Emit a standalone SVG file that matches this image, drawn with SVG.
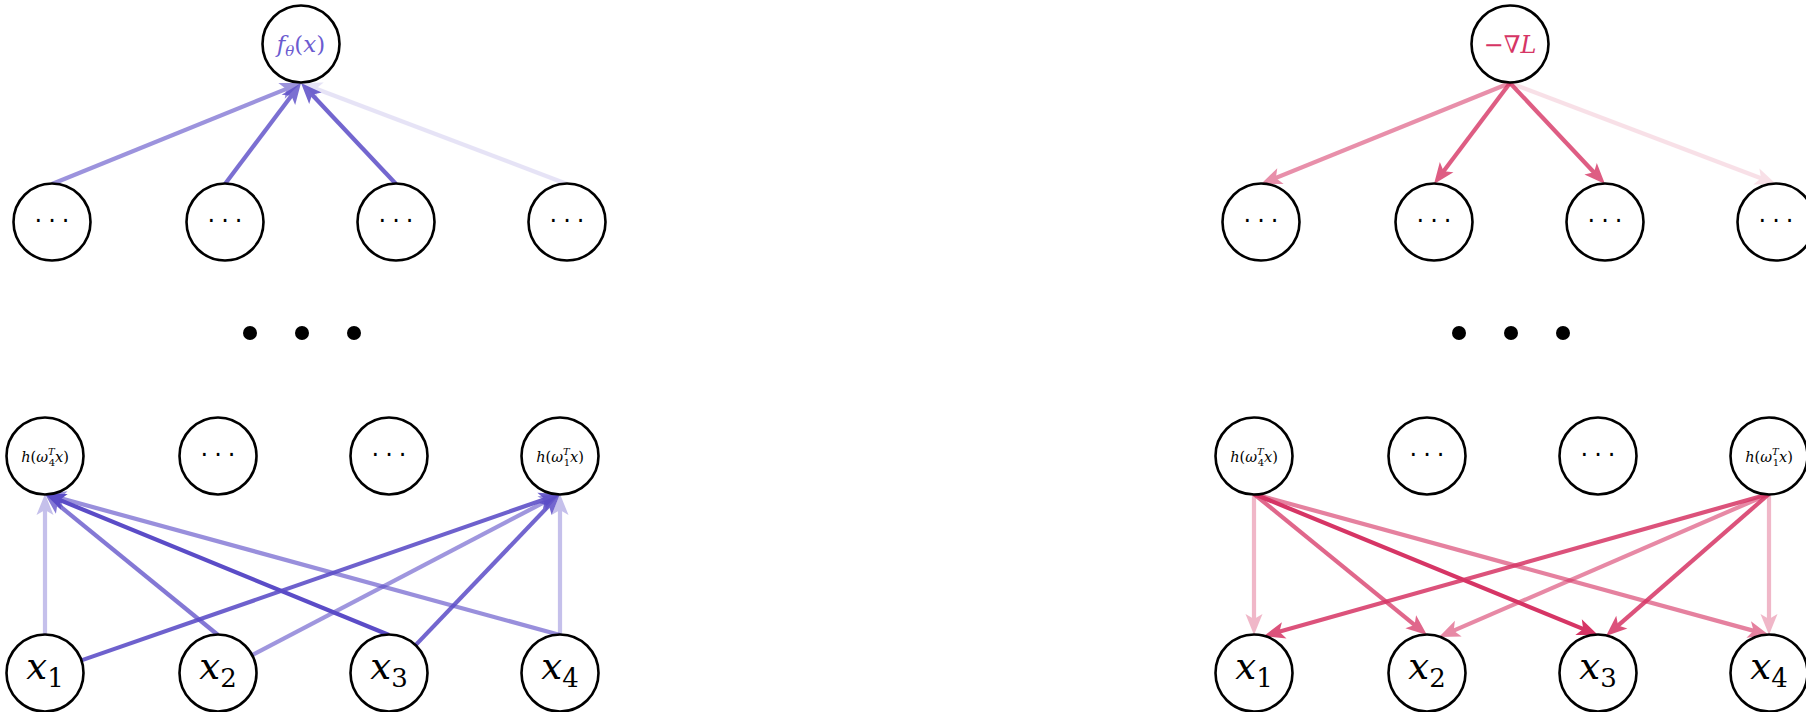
<svg xmlns="http://www.w3.org/2000/svg" width="1806" height="712" viewBox="0 0 1806 712">
<style>
.node{fill:#fff;stroke:#000;stroke-width:2.6}
.cp{stroke:#5b4cc7;stroke-width:4.2;marker-end:url(#ap)}
.ck{stroke:#d63565;stroke-width:4.2;marker-end:url(#ak)}
.up{font-style:normal}
.m{font-family:'DejaVu Serif','Liberation Serif',serif;font-style:italic;text-anchor:middle}
.dots{font-family:'DejaVu Sans',sans-serif;font-size:24px;letter-spacing:6px;text-anchor:middle;fill:#000}
.big{fill:#000}
</style>
<defs>
<marker id="ap" markerUnits="userSpaceOnUse" orient="auto" overflow="visible" markerWidth="1" markerHeight="1" refX="0" refY="0"><path d="M9,0 L-12,-8.5 L-7,0 L-12,8.5 Z" fill="#5b4cc7"/></marker>
<marker id="ak" markerUnits="userSpaceOnUse" orient="auto" overflow="visible" markerWidth="1" markerHeight="1" refX="0" refY="0"><path d="M9,0 L-12,-8.5 L-7,0 L-12,8.5 Z" fill="#d63565"/></marker>
</defs>

<g id="connectors">
<line class="cp" x1="52" y1="184" x2="292.66" y2="86.38" opacity="0.6"/>
<line class="cp" x1="225" y1="184" x2="295.59" y2="90.19" opacity="0.8"/>
<line class="cp" x1="396" y1="184" x2="307.17" y2="89.56" opacity="0.85"/>
<line class="cp" x1="567" y1="184" x2="309.41" y2="86.2" opacity="0.15"/>
<line class="cp" x1="45" y1="635" x2="45" y2="503" opacity="0.35"/>
<line class="cp" x1="218" y1="635" x2="51.98" y2="499.69" opacity="0.75"/>
<line class="cp" x1="389" y1="635" x2="53.33" y2="497.41" opacity="1"/>
<line class="cp" x1="560" y1="635" x2="53.68" y2="496.38" opacity="0.62"/>
<line class="cp" x1="81.37" y1="660.36" x2="551.5" y2="496.95" opacity="0.88"/>
<line class="cp" x1="252.11" y1="655.15" x2="552.03" y2="498.17" opacity="0.58"/>
<line class="cp" x1="415.6" y1="645.16" x2="553.78" y2="500.51" opacity="0.85"/>
<line class="cp" x1="560" y1="635" x2="560" y2="503" opacity="0.35"/>
<line class="ck" x1="1510" y1="83" x2="1269.34" y2="180.62" opacity="0.55"/>
<line class="ck" x1="1510" y1="83" x2="1439.41" y2="176.81" opacity="0.8"/>
<line class="ck" x1="1510" y1="83" x2="1598.83" y2="177.44" opacity="0.8"/>
<line class="ck" x1="1510" y1="83" x2="1767.59" y2="180.8" opacity="0.15"/>
<line class="ck" x1="1254" y1="494" x2="1254" y2="626" opacity="0.35"/>
<line class="ck" x1="1254" y1="494" x2="1420.02" y2="629.31" opacity="0.75"/>
<line class="ck" x1="1254" y1="494" x2="1589.67" y2="631.59" opacity="1"/>
<line class="ck" x1="1254" y1="494" x2="1760.32" y2="632.62" opacity="0.62"/>
<line class="ck" x1="1769" y1="494" x2="1272.66" y2="633.56" opacity="0.85"/>
<line class="ck" x1="1769" y1="494" x2="1447.26" y2="633.42" opacity="0.58"/>
<line class="ck" x1="1769" y1="494" x2="1612.79" y2="630.09" opacity="0.85"/>
<line class="ck" x1="1769" y1="494" x2="1769" y2="626" opacity="0.35"/>
</g>

<g id="L-out"><circle class="node" cx="301" cy="44" r="38.5"/>
<text class="m" x="301" y="52" font-size="23" fill="#6b5bd0">f<tspan font-size="15" dy="4">θ</tspan><tspan class="up" dy="-4">(</tspan>x<tspan class="up">)</tspan></text></g>
<g id="L-n1"><circle class="node" cx="52" cy="222" r="38.5"/><text class="dots" x="55" y="229">···</text></g>
<g id="L-n2"><circle class="node" cx="225" cy="222" r="38.5"/><text class="dots" x="228" y="229">···</text></g>
<g id="L-n3"><circle class="node" cx="396" cy="222" r="38.5"/><text class="dots" x="399" y="229">···</text></g>
<g id="L-n4"><circle class="node" cx="567" cy="222" r="38.5"/><text class="dots" x="570" y="229">···</text></g>
<g id="L-gap"><circle class="big" cx="250" cy="333" r="7"/><circle class="big" cx="302" cy="333" r="7"/><circle class="big" cx="354" cy="333" r="7"/></g>
<g id="L-h1"><circle class="node" cx="45" cy="456" r="38.5"/>
<text class="m" x="45" y="462" font-size="14.5">h<tspan class="up">(</tspan>ω<tspan font-size="10" dy="-7">T</tspan><tspan class="up" font-size="10" dx="-6" dy="11">4</tspan><tspan dy="-4">x</tspan><tspan class="up">)</tspan></text></g>
<g id="L-h2"><circle class="node" cx="218" cy="456" r="38.5"/><text class="dots" x="221" y="463">···</text></g>
<g id="L-h3"><circle class="node" cx="389" cy="456" r="38.5"/><text class="dots" x="392" y="463">···</text></g>
<g id="L-h4"><circle class="node" cx="560" cy="456" r="38.5"/>
<text class="m" x="560" y="462" font-size="14.5">h<tspan class="up">(</tspan>ω<tspan font-size="10" dy="-7">T</tspan><tspan class="up" font-size="10" dx="-6" dy="11">1</tspan><tspan dy="-4">x</tspan><tspan class="up">)</tspan></text></g>
<g id="L-x1"><circle class="node" cx="45" cy="673" r="38.5"/><text class="m" x="45" y="679" font-size="37">x<tspan class="up" font-size="26" dy="8">1</tspan></text></g>
<g id="L-x2"><circle class="node" cx="218" cy="673" r="38.5"/><text class="m" x="218" y="679" font-size="37">x<tspan class="up" font-size="26" dy="8">2</tspan></text></g>
<g id="L-x3"><circle class="node" cx="389" cy="673" r="38.5"/><text class="m" x="389" y="679" font-size="37">x<tspan class="up" font-size="26" dy="8">3</tspan></text></g>
<g id="L-x4"><circle class="node" cx="560" cy="673" r="38.5"/><text class="m" x="560" y="679" font-size="37">x<tspan class="up" font-size="26" dy="8">4</tspan></text></g>

<g id="R-out"><circle class="node" cx="1510" cy="44" r="38.5"/>
<text class="m up" x="1510" y="53" font-size="24" fill="#d63565">−∇<tspan font-style="italic">L</tspan></text></g>
<g id="R-n1"><circle class="node" cx="1261" cy="222" r="38.5"/><text class="dots" x="1264" y="229">···</text></g>
<g id="R-n2"><circle class="node" cx="1434" cy="222" r="38.5"/><text class="dots" x="1437" y="229">···</text></g>
<g id="R-n3"><circle class="node" cx="1605" cy="222" r="38.5"/><text class="dots" x="1608" y="229">···</text></g>
<g id="R-n4"><circle class="node" cx="1776" cy="222" r="38.5"/><text class="dots" x="1779" y="229">···</text></g>
<g id="R-gap"><circle class="big" cx="1459" cy="333" r="7"/><circle class="big" cx="1511" cy="333" r="7"/><circle class="big" cx="1563" cy="333" r="7"/></g>
<g id="R-h1"><circle class="node" cx="1254" cy="456" r="38.5"/>
<text class="m" x="1254" y="462" font-size="14.5">h<tspan class="up">(</tspan>ω<tspan font-size="10" dy="-7">T</tspan><tspan class="up" font-size="10" dx="-6" dy="11">4</tspan><tspan dy="-4">x</tspan><tspan class="up">)</tspan></text></g>
<g id="R-h2"><circle class="node" cx="1427" cy="456" r="38.5"/><text class="dots" x="1430" y="463">···</text></g>
<g id="R-h3"><circle class="node" cx="1598" cy="456" r="38.5"/><text class="dots" x="1601" y="463">···</text></g>
<g id="R-h4"><circle class="node" cx="1769" cy="456" r="38.5"/>
<text class="m" x="1769" y="462" font-size="14.5">h<tspan class="up">(</tspan>ω<tspan font-size="10" dy="-7">T</tspan><tspan class="up" font-size="10" dx="-6" dy="11">1</tspan><tspan dy="-4">x</tspan><tspan class="up">)</tspan></text></g>
<g id="R-x1"><circle class="node" cx="1254" cy="673" r="38.5"/><text class="m" x="1254" y="679" font-size="37">x<tspan class="up" font-size="26" dy="8">1</tspan></text></g>
<g id="R-x2"><circle class="node" cx="1427" cy="673" r="38.5"/><text class="m" x="1427" y="679" font-size="37">x<tspan class="up" font-size="26" dy="8">2</tspan></text></g>
<g id="R-x3"><circle class="node" cx="1598" cy="673" r="38.5"/><text class="m" x="1598" y="679" font-size="37">x<tspan class="up" font-size="26" dy="8">3</tspan></text></g>
<g id="R-x4"><circle class="node" cx="1769" cy="673" r="38.5"/><text class="m" x="1769" y="679" font-size="37">x<tspan class="up" font-size="26" dy="8">4</tspan></text></g>
</svg>
